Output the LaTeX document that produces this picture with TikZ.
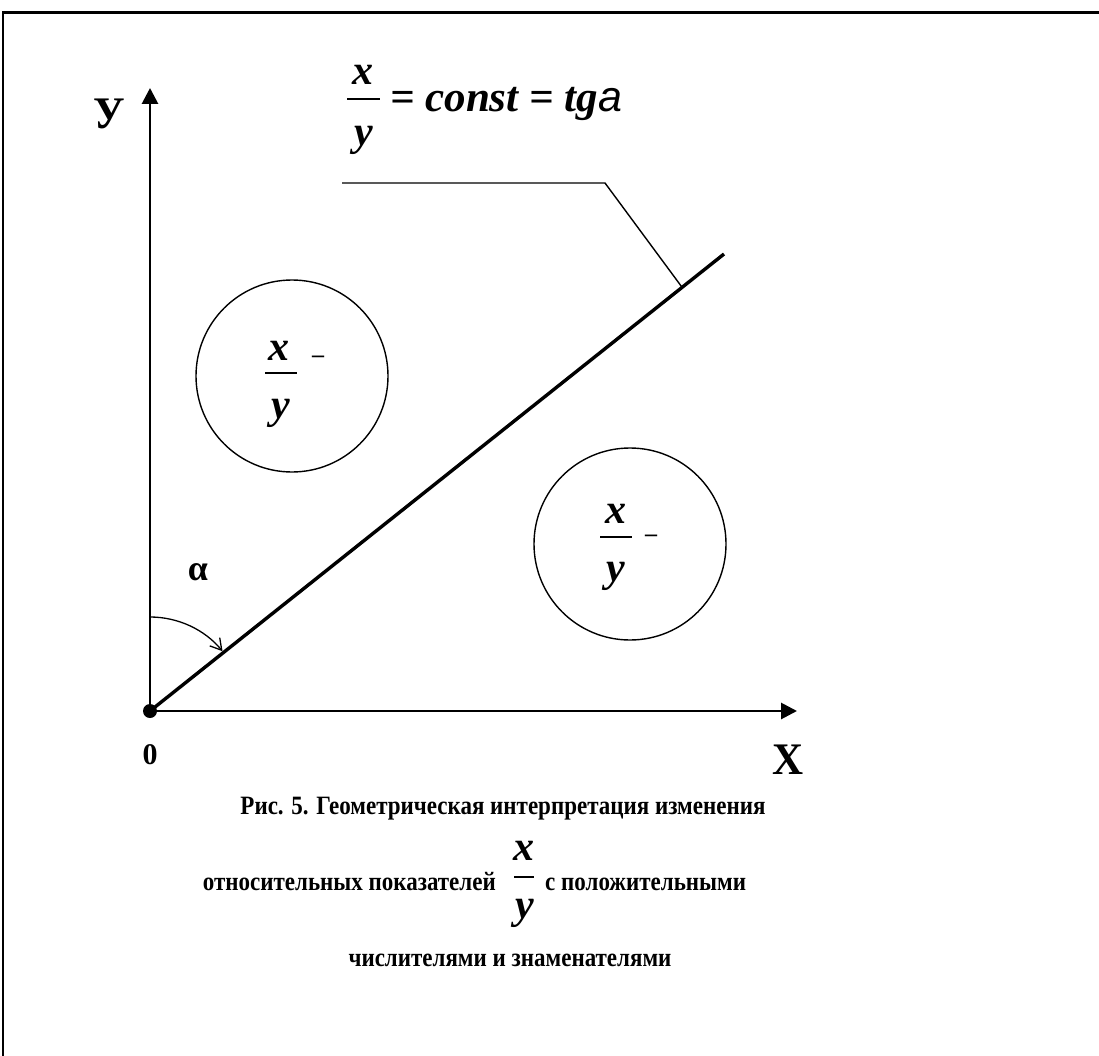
\documentclass[tikz,border=0pt]{standalone}
\usepackage{fontspec}
\setmainfont{Liberation Serif}[BoldItalicFont={Liberation Serif Bold Italic}]
\newfontfamily\arialf{Liberation Sans}
\usetikzlibrary{arrows.meta,calc}
\begin{document}
\begin{tikzpicture}[x=1pt,y=-1pt,
  ax/.style={line width=2.8pt,-{Triangle[length=16pt,width=16pt]}},
  thinline/.style={line width=1.4pt},
  bi/.style={font=\fontsize{42}{44}\selectfont\bfseries\itshape, inner sep=0pt},
  fbar/.style={line width=1.6pt},
  dashmark/.style={font=\fontsize{24}{26}\selectfont\bfseries, inner sep=0pt},
  captext/.style={font=\fontsize{23}{25}\selectfont\bfseries, inner sep=0pt, yscale=1.15},
  axlabel/.style={font=\fontsize{43}{45}\selectfont\bfseries, inner sep=0pt},
]
\useasboundingbox (0,0) rectangle (1099,1056);
% frame (cut at right and bottom)
\draw[line width=1.5pt] (3,1056) -- (3,13);
\draw[line width=3pt] (2.25,13) -- (1099,13);

% axes
\coordinate (O) at (150,711);
\coordinate (Ytip) at (150,88);
\coordinate (Xtip) at (797,711);
\coordinate (Dend) at (724,254);
\draw[ax] (O) -- (Ytip);
\draw[ax] (O) -- (Xtip);
\draw[line width=3.4pt] (O) -- (Dend);
\fill (O) circle[radius=7];

% angle arc
\draw[line width=1.3pt,-{Straight Barb[length=11pt,width=13pt]}] (O) ++(0,-94) arc[start angle=-90,end angle=-39.5,radius=94];

% leader line
\coordinate (L1) at (342,183);
\coordinate (L2) at (605,183);
\coordinate (L3) at ($(O)!0.927!(Dend)$);
\draw[thinline] (L1) -- (L2) -- (L3);

% labels
\node[axlabel,yscale=1.05] (ylab) at (109,114) {У};
\node[axlabel,yscale=1.05] (xlab) at (788,760) {X};
\node[font=\fontsize{30}{32}\selectfont\bfseries, inner sep=0pt] (zero) at (150,755) {0};
\node[font=\fontsize{36}{38}\selectfont\bfseries, inner sep=0pt] (alpha) at (198,572) {α};

% top formula
\node[bi,anchor=base] (tx) at (363,85) {x};
\draw[fbar] (347,99) -- (380,99);
\node[bi,anchor=base] (ty) at (364,146) {y};
\node[anchor=base west,inner sep=0pt,font=\fontsize{43}{45}\selectfont] (tf) at (390,112) {{\bfseries\itshape = const = tg}{\arialf\itshape a}};

% left circle
\draw[thinline] (292,376) circle[radius=96];
\node[bi,anchor=base] (lx) at (279,360) {x};
\draw[fbar] (265,373) -- (297,373);
\node[bi,anchor=base] (ly) at (281,418) {y};
\node[dashmark] (ld) at (318,359) {–};

% right circle
\draw[thinline] (630,544) circle[radius=96];
\node[bi,anchor=base] (rx) at (616,523) {x};
\draw[fbar] (600,537) -- (632,537);
\node[bi,anchor=base] (ry) at (616,581) {y};
\node[dashmark] (rd) at (651,538) {–};

% caption
\node[captext,anchor=base] (c1) at (503,814) {Рис. 5. Геометрическая интерпретация изменения};
\node[captext,anchor=base east] (c2a) at (496,890) {относительных показателей};
\node[bi,anchor=base] (cx) at (524,860) {x};
\draw[fbar] (514,877) -- (534,877);
\node[bi,anchor=base] (cy) at (525,918) {y};
\node[captext,anchor=base west] (c2b) at (545,890) {с положительными};
\node[captext,anchor=base] (c3) at (510,966) {числителями и знаменателями};
\end{tikzpicture}
\end{document}
